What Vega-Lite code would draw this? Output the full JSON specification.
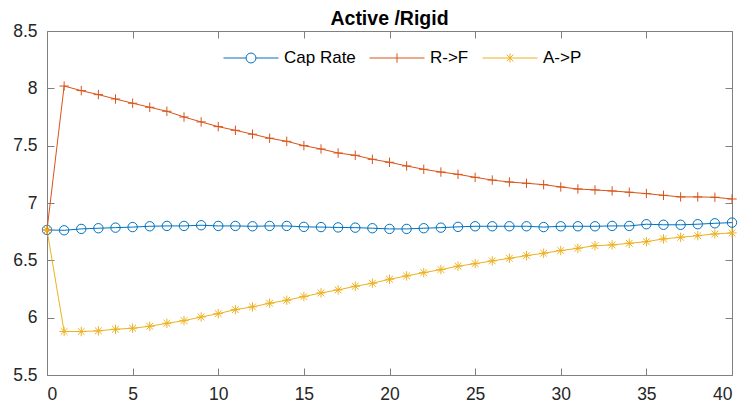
{
  "$schema": "https://vega.github.io/schema/vega-lite/v6.json",
  "width": 685,
  "height": 344,
  "autosize": {"type": "none"},
  "padding": {"left": 47, "top": 31, "right": 16, "bottom": 34},
  "background": "white",
  "title": {
    "text": "Active /Rigid",
    "font": "Liberation Sans",
    "fontSize": 19.5,
    "fontWeight": "bold",
    "color": "#000000",
    "baseline": "alphabetic",
    "frame": "group",
    "offset": 7,
    "dy": 29
  },
  "config": {
    "view": {"stroke": null},
    "axis": {
      "grid": false,
      "title": null,
      "labelFont": "Liberation Sans",
      "labelFontSize": 17.5,
      "labelColor": "#262626",
      "domainColor": "#808080",
      "tickColor": "#808080",
      "domainWidth": 1,
      "tickWidth": 1
    }
  },
  "data": {
    "values": [
      {"t": 0, "series": "Cap Rate", "value": 6.765},
      {"t": 1, "series": "Cap Rate", "value": 6.762},
      {"t": 2, "series": "Cap Rate", "value": 6.774},
      {"t": 3, "series": "Cap Rate", "value": 6.78},
      {"t": 4, "series": "Cap Rate", "value": 6.785},
      {"t": 5, "series": "Cap Rate", "value": 6.79},
      {"t": 6, "series": "Cap Rate", "value": 6.797},
      {"t": 7, "series": "Cap Rate", "value": 6.8},
      {"t": 8, "series": "Cap Rate", "value": 6.8},
      {"t": 9, "series": "Cap Rate", "value": 6.806},
      {"t": 10, "series": "Cap Rate", "value": 6.8},
      {"t": 11, "series": "Cap Rate", "value": 6.8},
      {"t": 12, "series": "Cap Rate", "value": 6.797},
      {"t": 13, "series": "Cap Rate", "value": 6.8},
      {"t": 14, "series": "Cap Rate", "value": 6.8},
      {"t": 15, "series": "Cap Rate", "value": 6.792},
      {"t": 16, "series": "Cap Rate", "value": 6.79},
      {"t": 17, "series": "Cap Rate", "value": 6.787},
      {"t": 18, "series": "Cap Rate", "value": 6.785},
      {"t": 19, "series": "Cap Rate", "value": 6.78},
      {"t": 20, "series": "Cap Rate", "value": 6.774},
      {"t": 21, "series": "Cap Rate", "value": 6.774},
      {"t": 22, "series": "Cap Rate", "value": 6.78},
      {"t": 23, "series": "Cap Rate", "value": 6.785},
      {"t": 24, "series": "Cap Rate", "value": 6.792},
      {"t": 25, "series": "Cap Rate", "value": 6.797},
      {"t": 26, "series": "Cap Rate", "value": 6.797},
      {"t": 27, "series": "Cap Rate", "value": 6.797},
      {"t": 28, "series": "Cap Rate", "value": 6.797},
      {"t": 29, "series": "Cap Rate", "value": 6.79},
      {"t": 30, "series": "Cap Rate", "value": 6.797},
      {"t": 31, "series": "Cap Rate", "value": 6.797},
      {"t": 32, "series": "Cap Rate", "value": 6.797},
      {"t": 33, "series": "Cap Rate", "value": 6.8},
      {"t": 34, "series": "Cap Rate", "value": 6.8},
      {"t": 35, "series": "Cap Rate", "value": 6.815},
      {"t": 36, "series": "Cap Rate", "value": 6.81},
      {"t": 37, "series": "Cap Rate", "value": 6.81},
      {"t": 38, "series": "Cap Rate", "value": 6.815},
      {"t": 39, "series": "Cap Rate", "value": 6.823},
      {"t": 40, "series": "Cap Rate", "value": 6.829},
      {"t": 0, "series": "R->F", "value": 6.765},
      {"t": 1, "series": "R->F", "value": 8.02},
      {"t": 2, "series": "R->F", "value": 7.98},
      {"t": 3, "series": "R->F", "value": 7.945},
      {"t": 4, "series": "R->F", "value": 7.907},
      {"t": 5, "series": "R->F", "value": 7.87},
      {"t": 6, "series": "R->F", "value": 7.835},
      {"t": 7, "series": "R->F", "value": 7.8},
      {"t": 8, "series": "R->F", "value": 7.75},
      {"t": 9, "series": "R->F", "value": 7.707},
      {"t": 10, "series": "R->F", "value": 7.666},
      {"t": 11, "series": "R->F", "value": 7.634},
      {"t": 12, "series": "R->F", "value": 7.6},
      {"t": 13, "series": "R->F", "value": 7.565},
      {"t": 14, "series": "R->F", "value": 7.538},
      {"t": 15, "series": "R->F", "value": 7.5},
      {"t": 16, "series": "R->F", "value": 7.471},
      {"t": 17, "series": "R->F", "value": 7.436},
      {"t": 18, "series": "R->F", "value": 7.416},
      {"t": 19, "series": "R->F", "value": 7.381},
      {"t": 20, "series": "R->F", "value": 7.355},
      {"t": 21, "series": "R->F", "value": 7.323},
      {"t": 22, "series": "R->F", "value": 7.294},
      {"t": 23, "series": "R->F", "value": 7.27},
      {"t": 24, "series": "R->F", "value": 7.25},
      {"t": 25, "series": "R->F", "value": 7.224},
      {"t": 26, "series": "R->F", "value": 7.2},
      {"t": 27, "series": "R->F", "value": 7.183},
      {"t": 28, "series": "R->F", "value": 7.172},
      {"t": 29, "series": "R->F", "value": 7.16},
      {"t": 30, "series": "R->F", "value": 7.14},
      {"t": 31, "series": "R->F", "value": 7.122},
      {"t": 32, "series": "R->F", "value": 7.114},
      {"t": 33, "series": "R->F", "value": 7.105},
      {"t": 34, "series": "R->F", "value": 7.094},
      {"t": 35, "series": "R->F", "value": 7.082},
      {"t": 36, "series": "R->F", "value": 7.067},
      {"t": 37, "series": "R->F", "value": 7.053},
      {"t": 38, "series": "R->F", "value": 7.053},
      {"t": 39, "series": "R->F", "value": 7.05},
      {"t": 40, "series": "R->F", "value": 7.035},
      {"t": 0, "series": "A->P", "value": 6.765},
      {"t": 1, "series": "A->P", "value": 5.879},
      {"t": 2, "series": "A->P", "value": 5.879},
      {"t": 3, "series": "A->P", "value": 5.885},
      {"t": 4, "series": "A->P", "value": 5.899},
      {"t": 5, "series": "A->P", "value": 5.908},
      {"t": 6, "series": "A->P", "value": 5.925},
      {"t": 7, "series": "A->P", "value": 5.951},
      {"t": 8, "series": "A->P", "value": 5.974},
      {"t": 9, "series": "A->P", "value": 6.006},
      {"t": 10, "series": "A->P", "value": 6.035},
      {"t": 11, "series": "A->P", "value": 6.07},
      {"t": 12, "series": "A->P", "value": 6.094},
      {"t": 13, "series": "A->P", "value": 6.126},
      {"t": 14, "series": "A->P", "value": 6.152},
      {"t": 15, "series": "A->P", "value": 6.184},
      {"t": 16, "series": "A->P", "value": 6.216},
      {"t": 17, "series": "A->P", "value": 6.242},
      {"t": 18, "series": "A->P", "value": 6.274},
      {"t": 19, "series": "A->P", "value": 6.3},
      {"t": 20, "series": "A->P", "value": 6.335},
      {"t": 21, "series": "A->P", "value": 6.364},
      {"t": 22, "series": "A->P", "value": 6.393},
      {"t": 23, "series": "A->P", "value": 6.419},
      {"t": 24, "series": "A->P", "value": 6.449},
      {"t": 25, "series": "A->P", "value": 6.471},
      {"t": 26, "series": "A->P", "value": 6.495},
      {"t": 27, "series": "A->P", "value": 6.518},
      {"t": 28, "series": "A->P", "value": 6.541},
      {"t": 29, "series": "A->P", "value": 6.562},
      {"t": 30, "series": "A->P", "value": 6.585},
      {"t": 31, "series": "A->P", "value": 6.605},
      {"t": 32, "series": "A->P", "value": 6.628},
      {"t": 33, "series": "A->P", "value": 6.634},
      {"t": 34, "series": "A->P", "value": 6.649},
      {"t": 35, "series": "A->P", "value": 6.663},
      {"t": 36, "series": "A->P", "value": 6.687},
      {"t": 37, "series": "A->P", "value": 6.701},
      {"t": 38, "series": "A->P", "value": 6.715},
      {"t": 39, "series": "A->P", "value": 6.73},
      {"t": 40, "series": "A->P", "value": 6.739}
    ]
  },
  "resolve": {"scale": {"x": "independent", "y": "independent"}},
  "layer": [
    {
      "mark": {"type": "line", "strokeWidth": 1},
      "encoding": {
        "x": {
          "field": "t", "type": "quantitative",
          "scale": {"domain": [0, 40], "nice": false, "zero": false},
          "axis": {"orient": "bottom", "values": [0, 5, 10, 15, 20, 25, 30, 35, 40], "tickSize": -7, "labelPadding": 17}
        },
        "y": {
          "field": "value", "type": "quantitative",
          "scale": {"domain": [5.5, 8.5], "nice": false, "zero": false},
          "axis": {"orient": "left", "values": [5.5, 6, 6.5, 7, 7.5, 8, 8.5], "format": ".2~f", "tickSize": -7, "labelPadding": 17}
        },
        "color": {
          "field": "series", "type": "nominal",
          "scale": {"domain": ["Cap Rate", "R->F", "A->P"], "range": ["#0072BD", "#D95319", "#EDB120"]},
          "legend": {
            "title": null,
            "orient": "none",
            "direction": "horizontal",
            "legendX": 176,
            "legendY": -1,
            "padding": 0,
            "symbolSize": 3025,
            "symbolStrokeWidth": 1,
            "labelFont": "Liberation Sans",
            "labelFontSize": 17,
            "labelColor": "#000000",
            "labelOffset": 5,
            "columnPadding": 11,
            "encode": {
              "symbols": {
                "update": {
                  "shape": {"signal": "datum.value === 'Cap Rate' ? 'M-1,0H-0.18M0.18,0H1M-0.18,0A0.18,0.18 0 1,1 0.18,0A0.18,0.18 0 1,1 -0.18,0' : datum.value === 'R->F' ? 'M-1,0H1M0,-0.17V0.17' : 'M-1,0H1M0,-0.16V0.16M-0.12,-0.12L0.12,0.12M-0.12,0.12L0.12,-0.12'"},
                  "fill": {"value": "transparent"},
                  "strokeWidth": {"value": 1}
                }
              }
            }
          }
        }
      }
    },
    {
      "transform": [{"filter": "datum.series === 'Cap Rate'"}],
      "mark": {"type": "point", "shape": "circle", "filled": false, "strokeWidth": 1, "size": 88, "opacity": 1, "color": "#0072BD"},
      "encoding": {
        "x": {"field": "t", "type": "quantitative", "scale": {"domain": [0, 40], "nice": false, "zero": false}, "axis": null},
        "y": {"field": "value", "type": "quantitative", "scale": {"domain": [5.5, 8.5], "nice": false, "zero": false}, "axis": null}
      }
    },
    {
      "transform": [{"filter": "datum.series === 'R->F'"}],
      "mark": {"type": "point", "shape": "M-1,0H1M0,-1V1", "filled": false, "strokeWidth": 1, "size": 88, "opacity": 1, "color": "#D95319"},
      "encoding": {
        "x": {"field": "t", "type": "quantitative", "scale": {"domain": [0, 40], "nice": false, "zero": false}, "axis": null},
        "y": {"field": "value", "type": "quantitative", "scale": {"domain": [5.5, 8.5], "nice": false, "zero": false}, "axis": null}
      }
    },
    {
      "transform": [{"filter": "datum.series === 'A->P'"}],
      "mark": {"type": "point", "shape": "M-1,0H1M0,-1V1M-0.72,-0.72L0.72,0.72M-0.72,0.72L0.72,-0.72", "filled": false, "strokeWidth": 1, "size": 88, "opacity": 1, "color": "#EDB120"},
      "encoding": {
        "x": {"field": "t", "type": "quantitative", "scale": {"domain": [0, 40], "nice": false, "zero": false}, "axis": null},
        "y": {"field": "value", "type": "quantitative", "scale": {"domain": [5.5, 8.5], "nice": false, "zero": false}, "axis": null}
      }
    },
    {
      "mark": {"type": "point", "opacity": 0},
      "encoding": {
        "x": {
          "field": "t", "type": "quantitative",
          "scale": {"domain": [0, 40], "nice": false, "zero": false},
          "axis": {"orient": "top", "values": [0, 5, 10, 15, 20, 25, 30, 35, 40], "labels": false, "tickSize": -7}
        },
        "y": {
          "field": "value", "type": "quantitative",
          "scale": {"domain": [5.5, 8.5], "nice": false, "zero": false},
          "axis": {"orient": "right", "values": [5.5, 6, 6.5, 7, 7.5, 8, 8.5], "labels": false, "tickSize": -7}
        }
      }
    }
  ]
}
